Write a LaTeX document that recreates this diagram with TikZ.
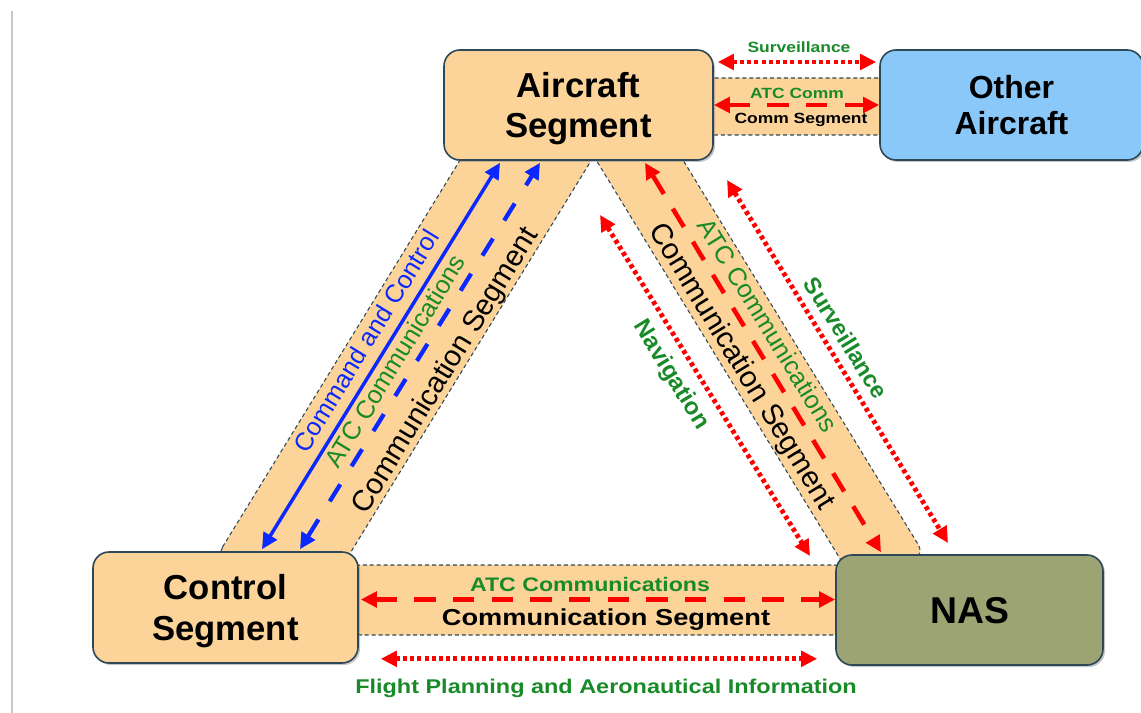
\documentclass[tikz,border=0pt]{standalone}
\usepackage{fontspec}
\setmainfont{Liberation Sans}
\newfontfamily\widefont[FakeStretch=1.18]{Liberation Sans}
\usetikzlibrary{arrows.meta,calc,shadows}

\definecolor{segfill}{RGB}{252,212,154}
\definecolor{segline}{RGB}{45,72,88}
\definecolor{othfill}{RGB}{138,200,250}
\definecolor{nasfill}{RGB}{156,164,116}
\definecolor{lblgreen}{RGB}{24,138,40}
\definecolor{ccblue}{RGB}{10,40,255}

\begin{document}
\begin{tikzpicture}[x=0.75pt,y=0.75pt,yscale=-1,xscale=1,
  seg/.style={draw=segline, line width=1.2pt, rounded corners=12pt, fill=segfill, align=center,
    text depth=0pt, font=\bfseries\fontsize{26}{30.5}\selectfont,
    drop shadow={shadow xshift=1.5pt, shadow yshift=-1.5pt, opacity=0.45}},
  band/.style={draw=segline, line width=0.8pt, dash pattern=on 3pt off 2.2pt, fill=segfill, rounded corners=8pt},
  tip/.style={{Triangle[length=12pt,width=11.5pt]}-{Triangle[length=12pt,width=11.5pt]}},
  atc/.style={tip, draw=red, line width=3.4pt, dash pattern=on 16pt off 13pt},
  dots/.style={tip, draw=red, line width=3.6pt, dash pattern=on 3pt off 2.4pt},
  cc/.style={tip, draw=ccblue, line width=2.6pt},
  ccdash/.style={tip, draw=ccblue, line width=3.2pt, dash pattern=on 15pt off 16pt},
  lbl/.style={inner sep=0pt},
  hlbl/.style={inner sep=0pt, text depth=0pt}
]
\useasboundingbox (0,0) rectangle (1141,713);
%page edge
\draw [color=black!22, line width=1.1pt] (12,11) -- (12,713) ;

%Band: Control -- Aircraft
\draw [band] (217,556) -- (500,95) -- (595.5,153.5) -- (312.5,614.5) -- cycle ;
%Band: Aircraft -- NAS
\draw [band] (590,150) -- (653,111) -- (924,554) -- (861,593) -- cycle ;
%Band: Aircraft -- Other Aircraft
\draw [band] (700,78) rectangle (890,135) ;
%Band: Control -- NAS
\draw [band] (350,565) rectangle (845,635) ;

%Boxes
\node [seg, minimum width=201.75pt, minimum height=82.5pt] (acft) at (578.5,105) {Aircraft\\Segment};
\node [seg, fill=othfill, minimum width=197.25pt, minimum height=82.5pt, font=\bfseries\fontsize{24}{27.5}\selectfont] (oth) at (1011.5,105) {Other\\Aircraft};
\node [seg, minimum width=198.75pt, minimum height=83.25pt] (ctrl) at (225.5,607.5) {Control\\Segment};
\node [seg, fill=nasfill, minimum width=200.25pt, minimum height=82.5pt, font=\bfseries\fontsize{28}{32}\selectfont] (nas) at (969.5,610) {NAS};

%free ends
\coordinate (nav1) at (600,215) ;
\coordinate (nav2) at (810,556) ;
\coordinate (sur1) at (727,180) ;
\coordinate (sur2) at (948,543) ;

%Arrows
\draw [cc] ($(ctrl.north)+(36.5,-2)$) -- ($(acft.south)+(-78.5,2)$) ;
\draw [ccdash] ($(ctrl.north)+(74.5,-2)$) -- ($(acft.south)+(-38.5,2)$) ;
\draw [atc] ($(acft.south)+(66.5,2)$) -- ($(nas.north)+(-88.5,-2)$) ;
\draw [dots] (nav1) -- (nav2) ;
\draw [dots] (sur1) -- (sur2) ;
\draw [dots] ($(acft.east)+(4,-43)$) -- ($(oth.west)+(-3,-43)$) ;
\draw [atc] (acft.east) -- (oth.west) ;
\draw [atc] ($(ctrl.east)+(2,-8)$) -- ($(nas.west)+(0,-10.5)$) ;
\draw [dots] ($(ctrl.south east)+(22,-5)$) -- ($(nas.south west)+(-18,-7)$) ;

% Text Node
\node [hlbl, text=lblgreen, font=\widefont\bfseries\fontsize{11.1}{13}\selectfont] (t1) at (799,47) {Surveillance};
\node [hlbl, text=lblgreen, font=\widefont\bfseries\fontsize{11.1}{13}\selectfont] (t2) at (797,93) {ATC Comm};
\node [hlbl, font=\widefont\bfseries\fontsize{11.1}{13}\selectfont] (t3) at (801,118) {Comm Segment};
\node [hlbl, text=lblgreen, font=\widefont\bfseries\fontsize{14.7}{17}\selectfont] (t4) at (590,584) {ATC Communications};
\node [hlbl, font=\widefont\bfseries\fontsize{17.3}{20}\selectfont] (t5) at (606,617) {Communication Segment};
\node [hlbl, text=lblgreen, font=\widefont\bfseries\fontsize{14.9}{17}\selectfont] (t6) at (606,686) {Flight Planning and Aeronautical Information};
% Text Node, sloped
\node [lbl, rotate=58.5, text=ccblue, font=\fontsize{19}{22}\selectfont] (t7) at (366,341) {Command and Control};
\node [lbl, rotate=58.5, text=lblgreen, font=\fontsize{19}{22}\selectfont] (t8) at (395,361) {ATC Communications};
\node [lbl, rotate=58.5, font=\fontsize{22}{26}\selectfont] (t9) at (446,371) {Communication Segment};
\node [lbl, rotate=-58.5, text=lblgreen, font=\fontsize{19}{22}\selectfont] (t10) at (768,325) {ATC Communications};
\node [lbl, rotate=-58.5, font=\fontsize{22}{26}\selectfont] (t11) at (741,367) {Communication Segment};
\node [lbl, rotate=-58.5, text=lblgreen, font=\bfseries\fontsize{18}{21}\selectfont] (t12) at (671,375) {Navigation};
\node [lbl, rotate=-58.5, text=lblgreen, font=\bfseries\fontsize{17.5}{20}\selectfont] (t13) at (846,338) {Surveillance};

\end{tikzpicture}
\end{document}
